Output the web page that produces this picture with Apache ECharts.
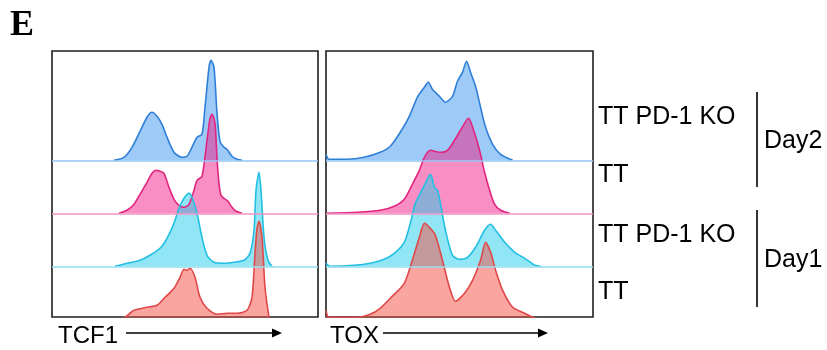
<!DOCTYPE html>
<html>
<head>
<meta charset="utf-8">
<script src="https://cdn.jsdelivr.net/npm/echarts@6/dist/echarts.min.js"></script>
<style>
  html, body { margin: 0; padding: 0; background: #fff; }
  #chart { width: 827px; height: 350px; }
</style>
</head>
<body>
<div id="chart"></div>
<script>
// Histogram traces: [channel, % of max] for each sample and marker
const tcf1KoDay2 = [[62,0],[72,3],[80,13],[88,29],[95,43],[100,48],[105,44],[110,36],[115,23],[122,8],[130,3],[135,4],[140,13],[145,23],[150,26],[153,53],[157,93],[159,100],[162,93],[165,47],[168,19],[172,13],[175,11],[180,4],[185,1],[190,0]];
const tcf1WtDay2 = [[67,0],[75,3],[82,9],[88,19],[95,31],[100,40],[104,43],[108,42],[112,40],[117,26],[122,14],[127,8],[132,6],[137,9],[142,23],[145,33],[150,37],[155,73],[158,95],[160,99],[163,90],[165,55],[167,30],[169,18],[172,15],[176,12],[180,6],[184,2],[190,0]];
const tcf1KoDay1 = [[63,0],[75,3],[88,6],[98,11],[108,18],[115,28],[122,43],[127,58],[132,68],[137,73],[140,69],[145,53],[150,29],[155,11],[162,4],[172,3],[182,4],[192,6],[198,13],[202,36],[204,76],[207,94],[209,76],[212,29],[216,6],[220,0]];
const tcf1WtDay1 = [[68,0],[73,2],[82,9],[95,12],[105,14],[113,22],[122,31],[128,42],[132,50],[135,49],[138,51],[143,42],[148,22],[155,11],[165,5],[175,6],[185,6],[195,9],[200,22],[203,66],[205,91],[207,98],[210,82],[213,32],[217,2],[218,0]];

const toxKoDay2 = [[0,6],[3,1],[21,1],[38,3],[54,8],[64,14],[74,28],[83,44],[91,63],[98,73],[102,78],[106,71],[113,64],[119,58],[126,64],[131,79],[136,88],[140,99],[144,88],[149,74],[154,53],[159,33],[166,16],[174,6],[186,0]];
const toxWtDay2 = [[1,0],[31,1],[54,3],[68,7],[78,14],[86,29],[93,43],[98,56],[104,63],[113,61],[121,63],[128,73],[134,83],[142,95],[148,80],[153,63],[158,41],[163,23],[168,9],[174,3],[183,0]];
const toxKoDay1 = [[0,3],[4,0],[28,1],[44,3],[58,7],[68,13],[78,24],[84,43],[89,63],[94,73],[99,83],[104,92],[108,79],[111,76],[114,63],[119,36],[126,11],[133,7],[141,9],[149,19],[158,36],[164,42],[169,36],[178,24],[188,14],[198,8],[208,1],[214,0]];
const toxWtDay1 = [[0,9],[3,2],[31,2],[44,5],[54,11],[64,21],[78,36],[86,59],[93,82],[98,96],[103,92],[109,84],[116,59],[123,32],[129,18],[138,26],[146,39],[154,59],[159,77],[164,67],[169,49],[176,29],[186,12],[198,6],[206,2],[214,0]];

// Row labels, top to bottom, and the day groups they belong to
const rowLabels = ['TT PD-1 KO', 'TT', 'TT PD-1 KO', 'TT'];
const dayLabels = ['Day2', 'Day1'];
const markerLabels = ['TCF1', 'TOX'];

// Panels hold the four samples, top row first
const panels = [
  [tcf1KoDay2, tcf1WtDay2, tcf1KoDay1, tcf1WtDay1],
  [toxKoDay2, toxWtDay2, toxKoDay1, toxWtDay1]
];

// Styling per row (blue, magenta, cyan, coral)
const rowStyles = [
  { line: '#2f7fd8', fill: 'rgba(60,150,240,0.5)', base: '#93c4f2' },
  { line: '#e0267f', fill: 'rgba(242,30,135,0.5)', base: '#f193c2' },
  { line: '#22bfe2', fill: 'rgba(35,205,238,0.5)', base: '#93dcf1' },
  { line: '#e04848', fill: 'rgba(245,75,65,0.5)', base: '#f4a3a0' }
];

const rowSpacing = 53;
const yMin = 2.3, yMax = 268.3;
const gridBoxes = [
  { left: 52, top: 51, width: 266, height: 266 },
  { left: 326, top: 51, width: 267, height: 266 }
];

const grids = [], xAxes = [], yAxes = [], series = [];
panels.forEach((rows, p) => {
  grids.push(Object.assign({ show: true, borderColor: '#1e1e1e', borderWidth: 1.6, backgroundColor: 'transparent' }, gridBoxes[p]));
  xAxes.push({ type: 'value', gridIndex: p, min: 0, max: 266, show: false });
  yAxes.push({ type: 'value', gridIndex: p, min: yMin, max: yMax, show: false });
  rows.forEach((trace, r) => {
    const offset = (rows.length - 1 - r) * rowSpacing;
    const st = rowStyles[r];
    series.push({
      type: 'line',
      xAxisIndex: p,
      yAxisIndex: p,
      data: trace.map(d => [d[0], d[1] + offset]),
      showSymbol: false,
      symbol: 'none',
      smooth: 0.25,
      lineStyle: { color: st.line, width: 1.6 },
      areaStyle: { color: st.fill, opacity: 1, origin: offset },
      silent: true,
      animation: false,
      markLine: {
        silent: true,
        symbol: 'none',
        label: { show: false },
        lineStyle: { color: st.base, width: 1.6, type: 'solid' },
        data: [{ yAxis: offset }],
        animation: false
      }
    });
  });
});

const font = '"Liberation Sans", Arial, sans-serif';
const graphics = [];

// Panel letter
graphics.push({ type: 'text', style: { text: 'E', x: 10, y: 26, font: 'bold 36px "Liberation Serif", "Times New Roman", serif', fill: '#000', verticalAlign: 'middle' } });

// Row labels
const rowLabelY = [117, 175, 235, 292];
rowLabels.forEach((t, i) => {
  graphics.push({ type: 'text', style: { text: t, x: 598, y: rowLabelY[i], font: '25px ' + font, fill: '#000', verticalAlign: 'middle' } });
});

// Day brackets
const brackets = [[92, 187], [210, 307]];
dayLabels.forEach((t, i) => {
  const [y1, y2] = brackets[i];
  graphics.push({ type: 'line', shape: { x1: 757, y1: y1, x2: 757, y2: y2 }, style: { stroke: '#000', lineWidth: 1.6 } });
  graphics.push({ type: 'text', style: { text: t, x: 764, y: (y1 + y2) / 2 + 2, font: '25px ' + font, fill: '#000', verticalAlign: 'middle' } });
});

// Marker labels with arrows
const markerX = [58, 330];
const arrowSpans = [[126, 282], [383, 548]];
markerLabels.forEach((t, i) => {
  graphics.push({ type: 'text', style: { text: t, x: markerX[i], y: 336, font: '24px ' + font, fill: '#000', verticalAlign: 'middle' } });
  const [a, b] = arrowSpans[i];
  graphics.push({ type: 'line', shape: { x1: a, y1: 333, x2: b - 8, y2: 333 }, style: { stroke: '#000', lineWidth: 1.5 } });
  graphics.push({ type: 'polygon', shape: { points: [[b - 10, 328.5], [b, 333], [b - 10, 337.5]] }, style: { fill: '#000' } });
});

const chart = echarts.init(document.getElementById('chart'), null, { renderer: 'canvas' });
chart.setOption({
  animation: false,
  backgroundColor: '#fff',
  grid: grids,
  xAxis: xAxes,
  yAxis: yAxes,
  series: series,
  graphic: graphics
});
</script>
</body>
</html>
